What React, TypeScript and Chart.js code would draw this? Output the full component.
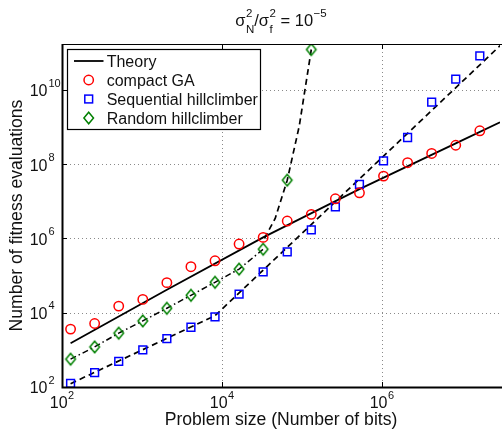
import React, { useEffect, useRef } from "react";
import { Chart, registerables } from "chart.js";

Chart.register(...registerables);

// ---------------- data ----------------
const problemSizes = [
  128, 256, 512, 1024, 2048, 4096, 8192, 16384, 32768, 65536, 131072, 262144,
  524288, 1048576, 2097152, 4194304, 8388608, 16777216,
];
const compactGA = [
  3630, 5130, 15100, 22900, 64600, 174000, 251000, 708000, 1.07e6, 2.95e6,
  4.47e6, 1.17e7, 1.7e7, 4.79e7, 1.1e8, 1.95e8, 3.24e8, 7.94e8,
];
const sequentialHC = [
  126, 245, 490, 1000, 2000, 4070, 7760, 31600, 126000, 437000, 1.7e6, 7.08e6,
  2.88e7, 1.23e8, 5.25e8, 4.68e9, 1.95e10, 8.32e10,
];
const randomHC = [
  562, 1200, 2820, 6030, 13200, 29500, 66100, 150000, 513000, 3.72e7, 1.23e11,
];
const theoryX = [128, 2048, 32768, 524288, 8388608, 3e7];
const theoryY = [1500, 41700, 1.07e6, 2.14e7, 3.63e8, 1.35e9];
const seqFitX = [128, 8192, 33554432];
const seqFitY = [123, 8300, 1.95e11];
const randFitHighX = [34000, 46341, 65536, 92682, 131072];
const randFitHighY = [1.0e6, 3.47e6, 3.72e7, 1.07e9, 1.23e11];
const xTicks = [1e2, 1e4, 1e6];
const xTickExp = ["2", "4", "6"];
const yTicks = [1e2, 1e4, 1e6, 1e8, 1e10];
const yTickExp = ["2", "4", "6", "8", "10"];
const legendLabels = ["Theory", "compact GA", "Sequential hillclimber", "Random hillclimber"];

const FONT = '"Liberation Sans", Arial, Helvetica, sans-serif';
const RED = "#ff0000";
const BLUE = "#0000ff";
const GREEN = "#008000";

const pts = (xs: number[], ys: number[]) => ys.map((y, i) => ({ x: xs[i], y }));

function drawDiamond(g: CanvasRenderingContext2D, cx: number, cy: number) {
  g.beginPath();
  g.moveTo(cx, cy - 5.8);
  g.lineTo(cx + 4.8, cy);
  g.lineTo(cx, cy + 5.8);
  g.lineTo(cx - 4.8, cy);
  g.closePath();
  g.stroke();
}

function makeDiamond(color: string) {
  const c = document.createElement("canvas");
  c.width = 14;
  c.height = 16;
  const g = c.getContext("2d")!;
  g.strokeStyle = color;
  g.lineWidth = 1.5;
  drawDiamond(g, 7, 8);
  return c;
}

type Seg = { main?: string; sup?: string; sub?: string };

function drawRich(
  ctx: CanvasRenderingContext2D,
  segs: Seg[],
  x: number,
  baseline: number,
  mainSize: number,
  smallSize: number,
  supRise: number,
  subDrop: number,
  align: "center" | "left"
) {
  const mf = `${mainSize}px ${FONT}`;
  const sf = `${smallSize}px ${FONT}`;
  const widths = segs.map((s) => {
    if (s.main !== undefined) {
      ctx.font = mf;
      return ctx.measureText(s.main).width;
    }
    ctx.font = sf;
    return Math.max(
      s.sup ? ctx.measureText(s.sup).width : 0,
      s.sub ? ctx.measureText(s.sub).width : 0
    ) + 0.5;
  });
  const total = widths.reduce((a, b) => a + b, 0);
  let cx = align === "center" ? x - total / 2 : x;
  ctx.textAlign = "left";
  ctx.textBaseline = "alphabetic";
  segs.forEach((s, i) => {
    if (s.main !== undefined) {
      ctx.font = mf;
      ctx.fillText(s.main, cx, baseline);
    } else {
      ctx.font = sf;
      if (s.sup) ctx.fillText(s.sup, cx + 0.5, baseline - supRise);
      if (s.sub) ctx.fillText(s.sub, cx + 0.5, baseline + subDrop);
    }
    cx += widths[i];
  });
}

const decorPlugin = {
  id: "matlabDecor",
  beforeDatasetsDraw(chart: any) {
    const { ctx, chartArea: a, scales } = chart;
    ctx.save();
    ctx.strokeStyle = "#8a8a8a";
    ctx.lineWidth = 1;
    ctx.setLineDash([1, 3]);
    xTicks.slice(1).forEach((v) => {
      const px = Math.round(scales.x.getPixelForValue(v)) + 0.5;
      ctx.beginPath();
      ctx.moveTo(px, a.top);
      ctx.lineTo(px, a.bottom);
      ctx.stroke();
    });
    yTicks.slice(1).forEach((v) => {
      const py = Math.round(scales.y.getPixelForValue(v)) + 0.5;
      ctx.beginPath();
      ctx.moveTo(a.left, py);
      ctx.lineTo(a.right, py);
      ctx.stroke();
    });
    ctx.restore();
  },
  afterDatasetsDraw(chart: any) {
    const { ctx, chartArea: a, scales } = chart;
    ctx.save();
    ctx.setLineDash([]);
    ctx.strokeStyle = "#000";
    // frame
    ctx.lineWidth = 2;
    ctx.beginPath();
    ctx.moveTo(a.left + 0.5, a.top);
    ctx.lineTo(a.left + 0.5, a.bottom + 0.5);
    ctx.lineTo(a.right + 2, a.bottom + 0.5);
    ctx.stroke();
    ctx.lineWidth = 1.2;
    ctx.beginPath();
    ctx.moveTo(a.left, a.top + 0.5);
    ctx.lineTo(a.right + 2, a.top + 0.5);
    ctx.stroke();
    // tick marks (inward, mirrored on top)
    ctx.lineWidth = 1;
    xTicks.slice(1).forEach((v) => {
      const px = Math.round(scales.x.getPixelForValue(v)) + 0.5;
      ctx.beginPath();
      ctx.moveTo(px, a.bottom);
      ctx.lineTo(px, a.bottom - 5);
      ctx.moveTo(px, a.top);
      ctx.lineTo(px, a.top + 5);
      ctx.stroke();
    });
    yTicks.slice(1).forEach((v) => {
      const py = Math.round(scales.y.getPixelForValue(v)) + 0.5;
      ctx.beginPath();
      ctx.moveTo(a.left, py);
      ctx.lineTo(a.left + 5, py);
      ctx.stroke();
    });
    // tick labels
    ctx.fillStyle = "#111";
    xTicks.forEach((v, i) => {
      const px = scales.x.getPixelForValue(v);
      drawRich(ctx, [{ main: "10" }, { sup: xTickExp[i] }], px, 408, 16, 11, 9.5, 0, "center");
    });
    yTicks.forEach((v, i) => {
      const py = scales.y.getPixelForValue(v);
      ctx.font = `16px ${FONT}`;
      ctx.textAlign = "right";
      ctx.textBaseline = "alphabetic";
      ctx.fillText("10", 47.5, py + 6.3);
      ctx.font = `11px ${FONT}`;
      ctx.textAlign = "left";
      ctx.fillText(yTickExp[i], 48.5, py - 3.3);
    });
    // axis labels
    ctx.font = `17.6px ${FONT}`;
    ctx.textAlign = "center";
    ctx.textBaseline = "alphabetic";
    ctx.fillText("Problem size (Number of bits)", (a.left + a.right) / 2, 425);
    ctx.save();
    ctx.translate(21.7, (a.top + a.bottom) / 2);
    ctx.rotate(-Math.PI / 2);
    ctx.fillText("Number of fitness evaluations", 0, 0);
    ctx.restore();
    // title
    drawRich(
      ctx,
      [
        { main: "σ" },
        { sup: "2", sub: "N" },
        { main: "/σ" },
        { sup: "2", sub: "f" },
        { main: " = 10" },
        { sup: "−5" },
      ],
      (a.left + a.right) / 2,
      26,
      16.5,
      11.5,
      9,
      6.5,
      "center"
    );
    // legend
    const lx = 67.5, ly = 49.5, lw = 193, lh = 80;
    ctx.fillStyle = "#fff";
    ctx.fillRect(lx, ly, lw, lh);
    ctx.strokeStyle = "#000";
    ctx.lineWidth = 1.2;
    ctx.strokeRect(lx, ly, lw, lh);
    const rows = [61, 80, 99, 118];
    const mx = 88.7;
    // theory line sample
    ctx.lineWidth = 1.8;
    ctx.beginPath();
    ctx.moveTo(74, rows[0]);
    ctx.lineTo(103.5, rows[0]);
    ctx.stroke();
    ctx.lineWidth = 1.5;
    ctx.strokeStyle = RED;
    ctx.beginPath();
    ctx.arc(mx, rows[1], 4.7, 0, Math.PI * 2);
    ctx.stroke();
    ctx.strokeStyle = BLUE;
    ctx.strokeRect(mx - 3.9, rows[2] - 3.9, 7.8, 7.8);
    ctx.strokeStyle = GREEN;
    drawDiamond(ctx, mx, rows[3]);
    ctx.fillStyle = "#111";
    ctx.font = `16px ${FONT}`;
    ctx.textAlign = "left";
    ctx.textBaseline = "alphabetic";
    legendLabels.forEach((t, i) => ctx.fillText(t, 106.7, rows[i] + 5.8));
    ctx.restore();
  },
};

export default function App() {
  const ref = useRef<HTMLCanvasElement | null>(null);
  useEffect(() => {
    if (!ref.current) return;
    const diamond = makeDiamond(GREEN);
    const lineBase = {
      showLine: true,
      pointRadius: 0,
      pointHoverRadius: 0,
      fill: false,
      borderColor: "#000",
      tension: 0,
    };
    const chart = new Chart(ref.current, {
      type: "scatter",
      data: {
        datasets: [
          {
            label: "compact GA",
            data: pts(problemSizes, compactGA),
            pointStyle: "circle",
            pointRadius: 4.7,
            borderColor: RED,
            backgroundColor: "rgba(0,0,0,0)",
            borderWidth: 1.5,
          },
          {
            label: "Sequential hillclimber",
            data: pts(problemSizes, sequentialHC),
            pointStyle: "rect",
            pointRadius: 5.5,
            borderColor: BLUE,
            backgroundColor: "rgba(0,0,0,0)",
            borderWidth: 1.5,
          },
          {
            label: "Random hillclimber",
            data: pts(problemSizes, randomHC),
            pointStyle: diamond as any,
            pointRadius: 6,
            borderColor: GREEN,
            backgroundColor: "rgba(0,0,0,0)",
          },
          {
            ...lineBase,
            label: "Theory",
            data: pts(theoryX, theoryY),
            borderWidth: 1.8,
          },
          {
            ...lineBase,
            label: "seq fit",
            data: pts(seqFitX, seqFitY),
            borderWidth: 1.7,
            borderDash: [6, 4],
          },
          {
            ...lineBase,
            label: "rand fit low",
            data: pts(problemSizes.slice(0, 9), randomHC.slice(0, 9)),
            borderWidth: 1.5,
            borderDash: [6, 3, 1.5, 3],
          },
          {
            ...lineBase,
            label: "rand fit high",
            data: pts(randFitHighX, randFitHighY),
            borderWidth: 1.7,
            borderDash: [6, 4],
          },
        ],
      },
      options: {
        animation: false,
        responsive: false,
        devicePixelRatio: 1,
        layout: { padding: { top: 44, left: 0, right: 0, bottom: 0 } },
        plugins: {
          legend: { display: false },
          title: { display: false },
          tooltip: { enabled: false },
        },
        events: [],
        scales: {
          x: {
            type: "logarithmic",
            min: 100,
            max: 3e7,
            grid: { display: false },
            border: { display: false },
            ticks: { display: false },
            afterBuildTicks: (s: any) => {
              s.ticks = xTicks.map((v) => ({ value: v }));
            },
            afterFit: (s: any) => {
              s.height = 48;
            },
          },
          y: {
            type: "logarithmic",
            min: 100,
            max: 1.73e11,
            grid: { display: false },
            border: { display: false },
            ticks: { display: false },
            afterBuildTicks: (s: any) => {
              s.ticks = yTicks.map((v) => ({ value: v }));
            },
            afterFit: (s: any) => {
              s.width = 62;
            },
          },
        },
      } as any,
      plugins: [decorPlugin],
    });
    return () => chart.destroy();
  }, []);
  return (
    <div
      style={{
        position: "absolute",
        left: 0,
        top: 0,
        width: 504,
        height: 435,
        overflow: "hidden",
        background: "#fff",
      }}
    >
      <canvas ref={ref} width={507} height={435} style={{ display: "block", width: 507, height: 435 }} />
    </div>
  );
}
